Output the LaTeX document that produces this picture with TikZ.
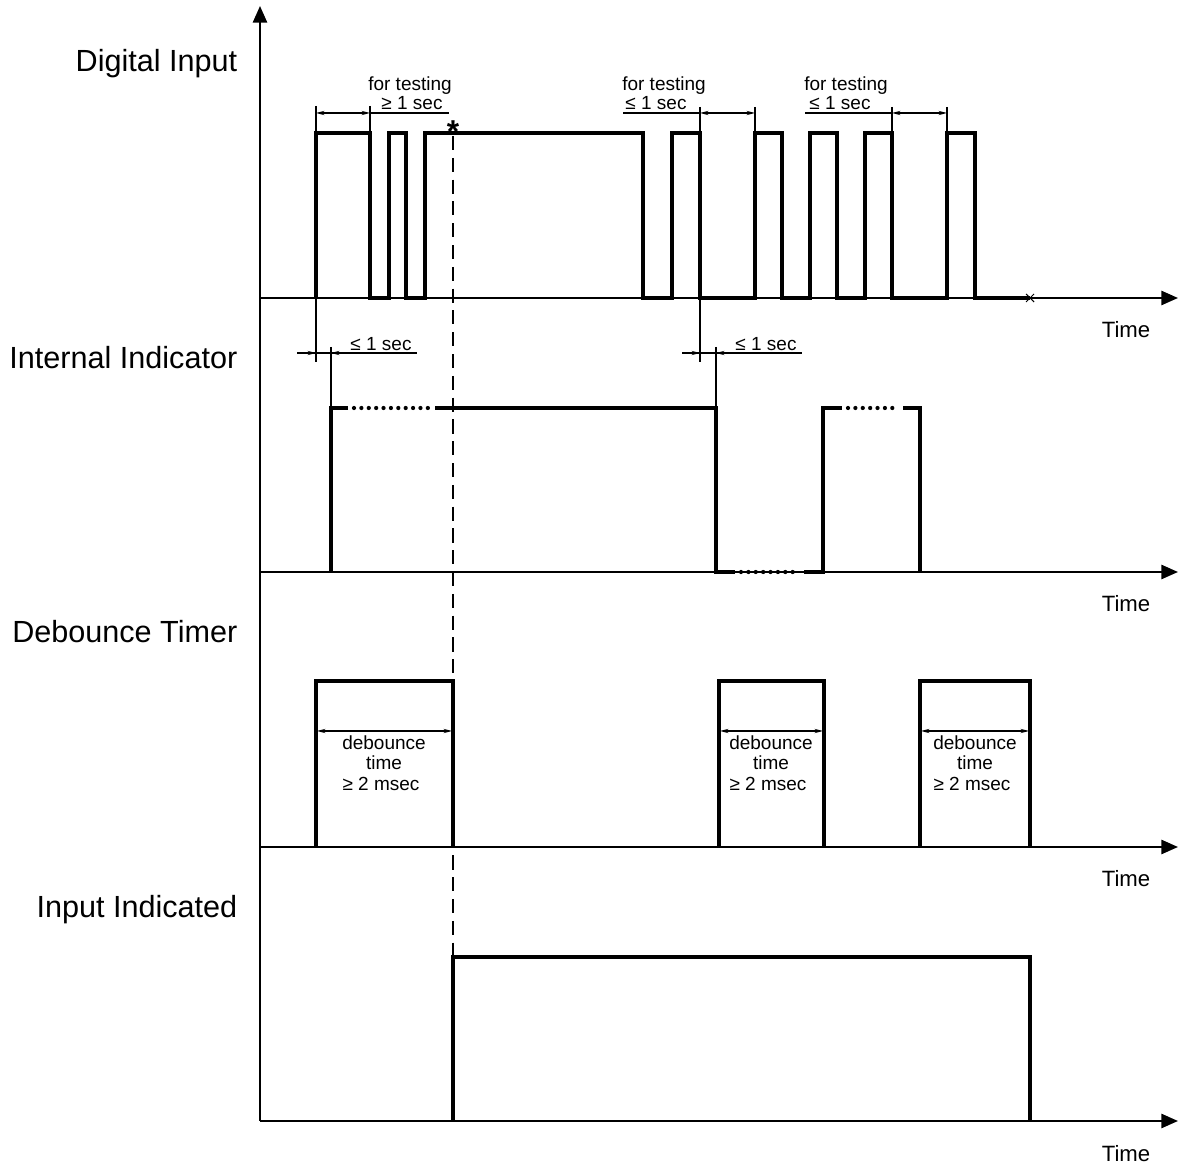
\documentclass[tikz,border=0pt]{standalone}
\usepackage{fontspec}
\setmainfont{Liberation Sans}
\usepackage{tikz}
\usetikzlibrary{arrows.meta}

\tikzset{
  wave/.style={line width=1.3pt, line join=miter},
  dotwave/.style={line width=1.2pt, line cap=round, dash pattern=on 0pt off 2.1pt},
  axisline/.style={line width=0.6pt, -{Triangle[length=4.7pt, width=4pt]}},
  dimline/.style={line width=0.3pt},
  dimtip/.style={line width=0.3pt, -{Stealth[length=2.4pt, width=1.2pt]}},
  dimboth/.style={line width=0.3pt, {Stealth[length=2.4pt, width=1.2pt]}-{Stealth[length=2.4pt, width=1.2pt]}},
  guide/.style={line width=0.4pt, dash pattern=on 4pt off 2.2pt},
  biglabel/.style={font=\fontsize{8.7}{10}\selectfont, anchor=base east, inner sep=0pt},
  timelabel/.style={font=\fontsize{6.3}{7}\selectfont, anchor=base, inner sep=0pt},
  smalllabel/.style={font=\fontsize{5.4}{6.4}\selectfont, anchor=base, inner sep=0pt}
}

\begin{document}
\begin{tikzpicture}[x=0.01cm, y=-0.01cm]
  \useasboundingbox (0,0) rectangle (1181,1167);

  % axes
  \coordinate (top) at (260,6);
  \coordinate (o1) at (260,298);
  \coordinate (o2) at (260,572);
  \coordinate (o3) at (260,847);
  \coordinate (o4) at (260,1121);
  \draw[axisline] (o4) -- (top);
  \foreach \a in {o1,o2,o3,o4}
    \draw[axisline] (\a) -- ++(918,0);

  % labels
  \node[biglabel] (diLbl) at (238,72) {Digital Input};
  \node[biglabel] (iiLbl) at (238,369) {Internal Indicator};
  \node[biglabel] (dtLbl) at (238,643) {Debounce Timer};
  \node[biglabel] (inLbl) at (238,918) {Input Indicated};
  \node[timelabel] (t1) at (1126,338) {Time};
  \node[timelabel] (t2) at (1126,612) {Time};
  \node[timelabel] (t3) at (1126,887) {Time};
  \node[timelabel] (t4) at (1126,1161) {Time};

  % digital input
  \draw[wave] (316,298) -- (316,133) -- (370,133) -- (370,298) -- (389,298)
    -- (389,133) -- (406,133) -- (406,298) -- (425,298) -- (425,133)
    -- (643,133) -- (643,298) -- (672,298) -- (672,133) -- (700,133)
    -- (700,298) -- (755,298) -- (755,133) -- (782,133) -- (782,298)
    -- (810,298) -- (810,133) -- (837,133) -- (837,298) -- (865,298)
    -- (865,133) -- (892,133) -- (892,298) -- (947,298) -- (947,133)
    -- (975,133) -- (975,298) -- (1030,298);
  \draw[dimline] (1026,294) -- (1034,302) (1026,302) -- (1034,294);

  % for testing marks
  \draw[dimline] (316,106) -- (316,133) (370,106) -- (370,133);
  \draw[dimboth] (316,113) -- (370,113);
  \draw[dimline] (370,113) -- (449,113);
  \node[smalllabel] (ft1) at (410,91) {for testing};
  \node[smalllabel] (fs1) at (412,110) {≥ 1 sec};

  \draw[dimline] (700,107) -- (700,133) (755,107) -- (755,133);
  \draw[dimboth] (700,113) -- (755,113);
  \draw[dimline] (623,113) -- (700,113);
  \node[smalllabel] (ft2) at (664,91) {for testing};
  \node[smalllabel] (fs2) at (656,110) {≤ 1 sec};

  \draw[dimline] (892,107) -- (892,133) (947,107) -- (947,133);
  \draw[dimboth] (892,113) -- (947,113);
  \draw[dimline] (805,113) -- (892,113);
  \node[smalllabel] (ft3) at (846,91) {for testing};
  \node[smalllabel] (fs3) at (840,110) {≤ 1 sec};

  \node[font=\fontsize{9}{10}\selectfont\bfseries, anchor=base, inner sep=0pt] (star) at (453,143) {*};

  % internal indicator
  \draw[wave] (348,408) -- (331,408) -- (331,572);
  \draw[dotwave] (354,408) -- (430,408);
  \draw[wave] (435,408) -- (716,408) -- (716,572) -- (735,572);
  \draw[dotwave] (741,572) -- (799,572);
  \draw[wave] (804,572) -- (823,572) -- (823,408) -- (842,408);
  \draw[dotwave] (848,408) -- (898,408);
  \draw[wave] (903,408) -- (920,408) -- (920,572);

  \draw[dimline] (316,298) -- (316,362) (331,347) -- (331,408);
  \draw[dimline] (297,353) -- (417,353);
  \draw[dimtip] (298,353) -- (316,353);
  \draw[dimtip] (350,353) -- (331,353);
  \node[smalllabel] (ls1) at (381,351) {≤ 1 sec};

  \draw[dimline] (700,298) -- (700,362) (716,347) -- (716,408);
  \draw[dimline] (682,353) -- (802,353);
  \draw[dimtip] (683,353) -- (700,353);
  \draw[dimtip] (735,353) -- (716,353);
  \node[smalllabel] (ls2) at (766,351) {≤ 1 sec};

  % debounce timer
  \draw[wave] (316,847) -- (316,681) -- (453,681) -- (453,847);
  \draw[wave] (719,847) -- (719,681) -- (824,681) -- (824,847);
  \draw[wave] (920,847) -- (920,681) -- (1030,681) -- (1030,847);
  \draw[dimboth] (317,731) -- (452,731);
  \draw[dimboth] (720,731) -- (823,731);
  \draw[dimboth] (921,731) -- (1029,731);
  \foreach \cx/\nm in {384/a, 771/b, 975/c} {
    \node[smalllabel] (db\nm) at (\cx,750) {debounce};
    \node[smalllabel] (tm\nm) at (\cx,770) {time};
    \node[smalllabel] (ms\nm) at (\cx-3,791) {≥ 2 msec};
  }

  % input indicated
  \draw[wave] (453,1121) -- (453,957) -- (1030,957) -- (1030,1121);

  % trigger line
  \draw[guide] (453,136) -- (453,957);
\end{tikzpicture}
\end{document}
